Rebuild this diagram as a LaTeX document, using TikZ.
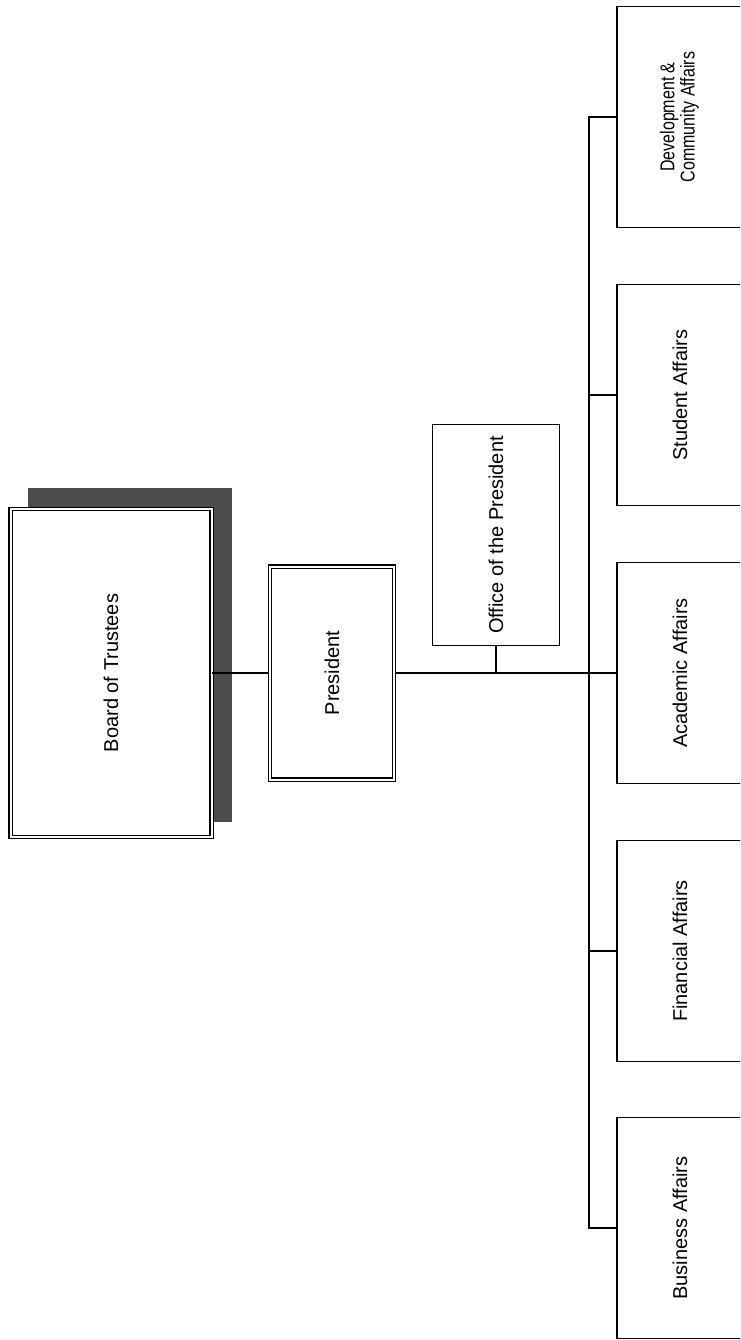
\documentclass[tikz,border=0pt]{standalone}
\usepackage{fontspec}
\setmainfont{Liberation Sans}
\usepackage{graphicx}
\begin{document}
\begin{tikzpicture}[x=1pt,y=-1pt,
  orgbox/.style={draw=black, line width=1.4pt, fill=white, inner sep=0pt, font=\fontsize{20}{24}\selectfont},
  dblbox/.style={orgbox, double=white, double distance=2pt, line width=1.2pt},
  rbox/.style={orgbox, minimum width=126pt, minimum height=221pt},
  conn/.style={line width=1.3pt}]
\useasboundingbox (0,0) rectangle (740,1340);
\clip (0,0) rectangle (740,1340);
\fill[white] (0,0) rectangle (740,1340);
% shadow of the board box
\fill[black!70] (28,488) rectangle (232,822);
\node[dblbox, minimum width=201pt, minimum height=328pt] (bot) at (111,673) {\rotatebox{90}{Board of Trustees}};
\node[dblbox, minimum width=124pt, minimum height=213pt] (pres) at (332,673) {\rotatebox{90}{President}};
\node[orgbox, minimum width=127pt, minimum height=221pt] (off) at (496,535) {\rotatebox{90}{Office of the President}};
\node[rbox] (dev) at (680,117) {\rotatebox{90}{\scalebox{0.8}[1]{\fontsize{20}{19}\selectfont\begin{tabular}{@{}c@{}}Development \&\\Community Affairs\end{tabular}}}};
\node[rbox] (stu) at (680,395) {\rotatebox{90}{Student Affairs}};
\node[rbox] (acad) at (680,673) {\rotatebox{90}{Academic Affairs}};
\node[rbox] (fin) at (680,951) {\rotatebox{90}{Financial Affairs}};
\node[rbox] (bus) at (680,1228) {\rotatebox{90}{Business Affairs}};
% connectors
\coordinate (bx) at (589,673);
\draw[conn] (bot.east) -- (pres.west);
\draw[conn] (pres.east) -- (acad.west);
\draw[conn] (off.south) -- (off.south |- pres.east);
\draw[conn] (dev.west) -- (dev.west -| bx) -- (bus.west -| bx) -- (bus.west);
\draw[conn] (stu.west) -- (stu.west -| bx);
\draw[conn] (fin.west) -- (fin.west -| bx);
\end{tikzpicture}
\end{document}
